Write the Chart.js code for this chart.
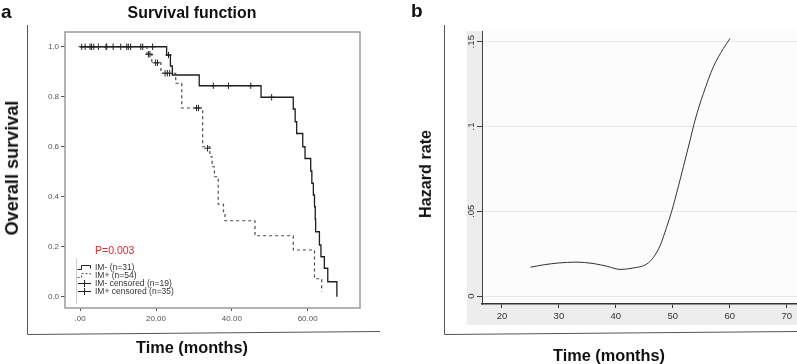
<!DOCTYPE html>
<html><head><meta charset="utf-8">
<script src="https://cdn.jsdelivr.net/npm/chart.js@4.4.1/dist/chart.umd.min.js"></script>
<style>
html,body{margin:0;padding:0;background:#fff;}
#page{position:relative;width:797px;height:364px;overflow:hidden;background:#fff;}
canvas{position:absolute;top:0;}
.t{position:absolute;white-space:nowrap;line-height:1;}
.bold{font-family:'Liberation Sans',Arial,sans-serif;font-weight:700;color:#111;}
.c{transform:translate(-50%,-50%);}
.r{transform:translate(-50%,-50%) rotate(-90deg);}
#legend{position:absolute;left:77px;top:263px;font-family:'Liberation Sans',Arial,sans-serif;font-size:8.5px;color:#333;}
#legend .row{display:flex;align-items:center;height:8px;}
#legend svg{width:15px;height:8px;margin-right:3px;flex:none;}
</style></head>
<body><div id="page">
<canvas id="ca" width="400" height="364" style="left:0"></canvas>
<canvas id="cb" width="397" height="364" style="left:400px"></canvas>
<div class="t bold" style="left:1px;top:2px;font-size:19px">a</div>
<div class="t bold c fit" data-w="129" style="left:192px;top:13px;font-size:16px">Survival function</div>
<div class="t bold r fit" data-w="135" style="left:12px;top:168px;font-size:18px">Overall survival</div>
<div class="t bold c fit" data-w="112" style="left:192px;top:347px;font-size:16px">Time (months)</div>
<div class="t bold" style="left:411px;top:1px;font-size:19px">b</div>
<div class="t bold r fit" data-w="88" style="left:425px;top:174px;font-size:16px">Hazard rate</div>
<div class="t bold c fit" data-w="112" style="left:609px;top:355px;font-size:16px">Time (months)</div>
<div class="t" style="left:95px;top:245px;font-family:'Liberation Sans',Arial,sans-serif;font-size:10.5px;color:#e3262c">P=0.003</div>
<div id="legend"></div>
</div>
<script>
// ---------- Panel a: Kaplan-Meier ----------
const xTickValuesA = [0, 20, 40, 60];
const xTickLabelsA = ['.00', '20.00', '40.00', '60.00'];
const yTickValuesA = [0, 0.2, 0.4, 0.6, 0.8, 1.0];
const yTickLabelsA = ['0.0', '0.2', '0.4', '0.6', '0.8', '1.0'];

const imMinusTimes = [0, 22.8, 23.8, 24.3, 31.4, 47.7, 56.2, 56.7, 57.1, 58.7, 59.3, 60.8, 61.1, 61.5, 61.8, 62.0, 62.1, 63.1, 63.5, 64.4, 65.3, 67.7];
const imMinusSurv  = [1.0, 0.967, 0.923, 0.887, 0.844, 0.798, 0.751, 0.70, 0.653, 0.60, 0.553, 0.503, 0.454, 0.407, 0.36, 0.31, 0.26, 0.207, 0.16, 0.114, 0.06, 0.0];

const imPlusTimes = [0, 17.6, 18.9, 21.3, 25.2, 26.8, 32.3, 34.2, 34.8, 35.4, 36.4, 37.8, 38.2, 46.1, 56.2, 61.8, 63.7];
const imPlusSurv  = [1.0, 0.97, 0.936, 0.894, 0.854, 0.755, 0.60, 0.56, 0.52, 0.48, 0.37, 0.34, 0.304, 0.244, 0.187, 0.072, 0.02];

const imMinusCensorTimes = [0.4, 3.0, 4.8, 8.7, 12.3, 13.3, 16.5, 19.1, 23.3, 35.1, 39.1, 45.0, 50.5];
const imMinusCensorSurv  = [1.0, 1.0, 1.0, 1.0, 1.0, 1.0, 1.0, 1.0, 0.967, 0.844, 0.844, 0.844, 0.798];

const imPlusCensorTimes = [1.3, 2.6, 3.6, 6.8, 7.0, 10.7, 12.7, 16.0, 18.0, 18.4, 19.9, 20.4, 22.4, 23.0, 23.6, 30.7, 31.2, 33.6];
const imPlusCensorSurv  = [1.0, 1.0, 1.0, 1.0, 1.0, 1.0, 1.0, 1.0, 0.97, 0.97, 0.936, 0.936, 0.894, 0.894, 0.894, 0.755, 0.755, 0.594];

const legendLabelsA = ['IM- (n=31)', 'IM+ (n=54)', 'IM- censored (n=19)', 'IM+ censored (n=35)'];

// ---------- Panel b: hazard ----------
const hazardTimes = [25, 27.5, 30, 33, 36, 38.5, 40.75, 43, 45.4, 46.6, 47.8, 48.9, 49.8, 51, 51.86, 53.04, 53.91, 55.37, 57.12, 58.88, 60.05];
const hazardRates = [0.0170, 0.0185, 0.0195, 0.0200, 0.0192, 0.0175, 0.0157, 0.0165, 0.0188, 0.0228, 0.0300, 0.0405, 0.0500, 0.0650, 0.0763, 0.0920, 0.1038, 0.1195, 0.1352, 0.1460, 0.1519];
const xTickValuesB = [20, 30, 40, 50, 60, 70];
const xTickLabelsB = ['20', '30', '40', '50', '60', '70'];
const yTickValuesB = [0, 0.05, 0.1, 0.15];
const yTickLabelsB = ['0', '.05', '.1', '.15'];

const zip = (xs, ys) => xs.map((x, i) => ({x: x, y: ys[i]}));

// fit bold labels to the widths seen in the reference
document.querySelectorAll('.fit').forEach(el => {
  const target = parseFloat(el.dataset.w);
  const fs = parseFloat(el.style.fontSize);
  const w = el.offsetWidth;
  if (w > 0) el.style.fontSize = (fs * target / w).toFixed(2) + 'px';
});

// legend (HTML)
const icons = [
  '<svg viewBox="0 0 15 8"><path d="M0.5 6.5 H4.5 V2.5 H13.5 V5.5" fill="none" stroke="#222" stroke-width="1"/></svg>',
  '<svg viewBox="0 0 15 8"><path d="M0.5 6.5 H4.5 V2.5 H13.5 V5.5" fill="none" stroke="#555" stroke-width="1" stroke-dasharray="2,2"/></svg>',
  '<svg viewBox="0 0 15 8"><path d="M1 4.5 H14 M7.5 1 V8" fill="none" stroke="#222" stroke-width="1"/></svg>',
  '<svg viewBox="0 0 15 8"><path d="M1 4.5 H14 M7.5 1 V8" fill="none" stroke="#222" stroke-width="1"/></svg>'
];
document.getElementById('legend').innerHTML = legendLabelsA.map((l, i) => '<div class="row">' + icons[i] + '<span>' + l + '</span></div>').join('');

const frameA = {
  id: 'frameA',
  afterDraw(chart) {
    const ctx = chart.ctx, a = chart.chartArea;
    ctx.save();
    ctx.strokeStyle = '#9a9a9a'; ctx.lineWidth = 1.5;
    ctx.strokeRect(a.left, a.top, a.right - a.left, a.bottom - a.top);
    ctx.strokeStyle = '#d0d0d0'; ctx.lineWidth = 1;
    ctx.beginPath(); ctx.moveTo(76.5, 258); ctx.lineTo(76.5, 304); ctx.stroke();
    ctx.strokeStyle = '#555'; ctx.lineWidth = 1;
    ctx.beginPath(); ctx.moveTo(27.5, 25); ctx.lineTo(27.5, 334.5); ctx.lineTo(380, 331.5); ctx.stroke();
    ctx.restore();
  }
};

new Chart(document.getElementById('ca'), {
  type: 'line',
  data: {datasets: [
    {data: zip(imMinusTimes, imMinusSurv), stepped: 'before', borderColor: '#1e1e1e', borderWidth: 1.3, pointRadius: 0, fill: false},
    {data: zip(imPlusTimes, imPlusSurv), stepped: 'before', borderColor: '#4a4a4a', borderWidth: 1.2, borderDash: [3, 3], pointRadius: 0, fill: false},
    {type: 'scatter', data: zip(imMinusCensorTimes, imMinusCensorSurv), pointStyle: 'cross', pointRadius: 3.2, borderColor: '#222', borderWidth: 1, showLine: false},
    {type: 'scatter', data: zip(imPlusCensorTimes, imPlusCensorSurv), pointStyle: 'cross', pointRadius: 3.2, borderColor: '#222', borderWidth: 1, showLine: false}
  ]},
  options: {
    responsive: false, animation: false, events: [],
    layout: {padding: {left: 45, right: 40, top: 32, bottom: 36}},
    plugins: {legend: {display: false}, tooltip: {enabled: false}},
    scales: {
      x: {type: 'linear', min: -4, max: 73.8,
        afterFit: s => { s.height = 20; },
        afterBuildTicks: s => { s.ticks = xTickValuesA.map(v => ({value: v})); },
        ticks: {callback: (v, i) => xTickLabelsA[i], font: {family: 'Liberation Sans', size: 8}, color: '#555', padding: 3, maxRotation: 0, autoSkip: false},
        grid: {drawOnChartArea: false, drawTicks: true, tickLength: 3, color: '#555'},
        border: {display: false}},
      y: {type: 'linear', min: -0.045, max: 1.059,
        afterFit: s => { s.width = 20; },
        afterBuildTicks: s => { s.ticks = yTickValuesA.map(v => ({value: v})); },
        ticks: {callback: (v, i) => yTickLabelsA[i], font: {family: 'Liberation Sans', size: 8}, color: '#555', padding: 2, autoSkip: false},
        grid: {drawOnChartArea: false, drawTicks: true, tickLength: 4, color: '#555'},
        border: {display: false}}
    }
  },
  plugins: [frameA]
});

const frameB = {
  id: 'frameB',
  beforeDraw(chart) {
    const ctx = chart.ctx, a = chart.chartArea;
    ctx.save();
    ctx.fillStyle = '#ededed';
    ctx.fillRect(a.left - 15.3, a.top, a.right - a.left + 15.3, 325 - a.top);
    ctx.fillStyle = '#fcfcfc';
    ctx.fillRect(a.left, a.top, a.right - a.left, a.bottom - a.top);
    ctx.restore();
  },
  afterDraw(chart) {
    const ctx = chart.ctx, ys = chart.scales.y;
    ctx.save();
    ctx.font = '9.5px "Liberation Sans"'; ctx.fillStyle = '#333';
    ctx.textAlign = 'center'; ctx.textBaseline = 'middle';
    yTickValuesB.forEach((v, i) => {
      const py = ys.getPixelForValue(v);
      ctx.save(); ctx.translate(ys.right - 11, py); ctx.rotate(-Math.PI / 2);
      ctx.fillText(yTickLabelsB[i], 0, 0); ctx.restore();
    });
    ctx.strokeStyle = '#555'; ctx.lineWidth = 1;
    ctx.beginPath(); ctx.moveTo(44.5, 25); ctx.lineTo(44.5, 334.5); ctx.lineTo(397, 331.5); ctx.stroke();
    ctx.restore();
  }
};

new Chart(document.getElementById('cb'), {
  type: 'line',
  data: {datasets: [
    {data: zip(hazardTimes, hazardRates), borderColor: '#333', borderWidth: 1, pointRadius: 0, fill: false, cubicInterpolationMode: 'monotone'}
  ]},
  options: {
    responsive: false, animation: false, events: [],
    layout: {padding: {left: 62, right: 0, top: 31, bottom: 40}},
    plugins: {legend: {display: false}, tooltip: {enabled: false}},
    scales: {
      x: {type: 'linear', min: 16.5, max: 71.8,
        afterFit: s => { s.height = 20; },
        afterBuildTicks: s => { s.ticks = xTickValuesB.map(v => ({value: v})); },
        ticks: {callback: (v, i) => xTickLabelsB[i], font: {family: 'Liberation Sans', size: 9.5}, color: '#333', padding: 3, maxRotation: 0, autoSkip: false},
        grid: {drawOnChartArea: false, drawTicks: true, tickLength: 4, tickColor: '#333'},
        border: {display: true, color: '#333', width: 1.5}},
      y: {type: 'linear', min: -0.0047, max: 0.1563,
        afterFit: s => { s.width = 20; },
        afterBuildTicks: s => { s.ticks = yTickValuesB.map(v => ({value: v})); },
        ticks: {display: false},
        grid: {drawOnChartArea: true, drawTicks: true, tickLength: 5, color: '#e8e8e8', tickColor: '#444'},
        border: {display: true, color: '#444', width: 1}}
    }
  },
  plugins: [frameB]
});
</script>
</body></html>
